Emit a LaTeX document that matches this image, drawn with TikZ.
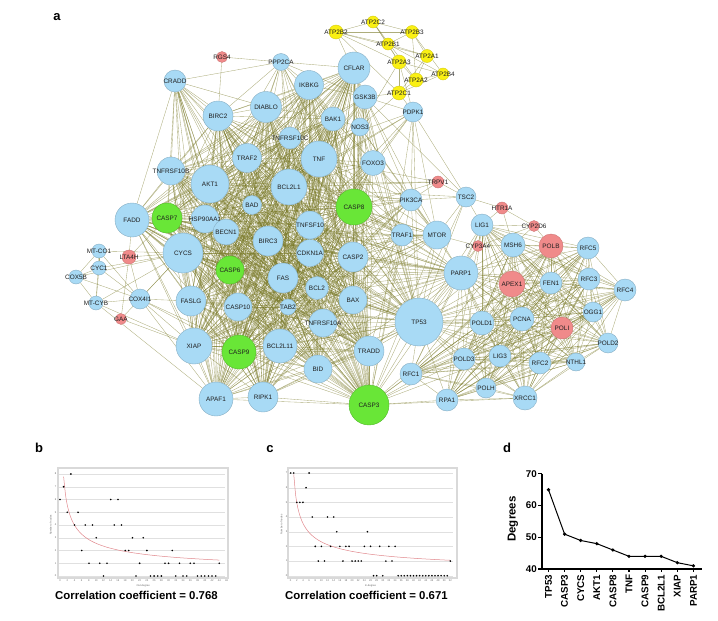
\documentclass[tikz,border=0pt]{standalone}
\usepackage{fontspec}
\setmainfont{Liberation Sans}
\usetikzlibrary{backgrounds}
\definecolor{geneblue}{RGB}{168,218,245}
\definecolor{genegreen}{RGB}{105,230,55}
\definecolor{genepink}{RGB}{240,138,138}
\definecolor{geneyellow}{RGB}{250,240,20}
\definecolor{edgecolor}{RGB}{118,118,35}
\definecolor{fitcolor}{RGB}{225,135,140}

\begin{document}
\begin{tikzpicture}[x=1pt, y=-1pt,
  gene/.style={circle, inner sep=0pt, line width=.4pt},
  bnode/.style={gene, fill=geneblue, draw=geneblue!80!black, minimum size=#1pt},
  gnode/.style={gene, fill=genegreen, draw=genegreen!80!black, minimum size=#1pt},
  pnode/.style={gene, fill=genepink, draw=genepink!85!black, minimum size=#1pt},
  ynode/.style={gene, fill=geneyellow, draw=geneyellow!85!black, minimum size=#1pt},
  every label/.style={font=\fontsize{6.4}{7}\selectfont, inner sep=0pt, text=black!88},
  edge/.style={draw=edgecolor, line width=.35pt, opacity=.6},
  panel/.style={font=\fontsize{13}{14}\selectfont\bfseries},
  caption/.style={font=\fontsize{11.4}{12}\selectfont\bfseries},
  plotframe/.style={draw=black!15, line width=1.2pt},
  gridline/.style={draw=black!12, line width=.3pt},
  fitline/.style={draw=fitcolor, line width=.5pt},
  ticklab/.style={font=\fontsize{2.6}{3}\selectfont, inner sep=0pt, text=black!60},
  dline/.style={draw=black, line width=1.1pt},
  dtick/.style={font=\fontsize{9.8}{10}\selectfont\bfseries, inner sep=1pt},
]
\useasboundingbox (0,0) rectangle (718,621);

% panel labels
\node[panel] (lbla) at (57,17) {a};
\node[panel] (lblb) at (39,448) {b};
\node[panel] (lblc) at (270,449) {c};
\node[panel] (lbld) at (507,448) {d};

% genes: calcium pumps
\node[ynode=12, label=center:ATP2C2] (ATP2C2) at (373,22) {};
\node[ynode=14, label=center:ATP2B2] (ATP2B2) at (336,32) {};
\node[ynode=13, label=center:ATP2B3] (ATP2B3) at (412,32) {};
\node[ynode=12, label=center:ATP2B1] (ATP2B1) at (388,44) {};
\node[ynode=13, label=center:ATP2A1] (ATP2A1) at (427,56) {};
\node[ynode=14, label=center:ATP2A3] (ATP2A3) at (399,62) {};
\node[ynode=12, label=center:ATP2B4] (ATP2B4) at (443,74) {};
\node[ynode=14, label=center:ATP2A2] (ATP2A2) at (416,80) {};
\node[ynode=14, label=center:ATP2C1] (ATP2C1) at (399,93) {};

% genes: top
\node[pnode=11, label=center:RGS4] (RGS4) at (222,57) {};
\node[bnode=17, label=center:PPP2CA] (PPP2CA) at (281,62) {};
\node[bnode=22, label=center:CRADD] (CRADD) at (175,81) {};
\node[bnode=30, label=center:BIRC2] (BIRC2) at (218,116) {};
\node[bnode=31, label=center:DIABLO] (DIABLO) at (266,107) {};
\node[bnode=29, label=center:IKBKG] (IKBKG) at (309,85) {};
\node[bnode=32, label=center:CFLAR] (CFLAR) at (354,68) {};
\node[bnode=24, label=center:GSK3B] (GSK3B) at (365,97) {};
\node[bnode=24, label=center:BAK1] (BAK1) at (333,119) {};
\node[bnode=18, label=center:NOS3] (NOS3) at (360,127) {};
\node[bnode=20, label=center:PDPK1] (PDPK1) at (413,112) {};
\node[bnode=22, label=center:TNFRSF10C] (TNFRSF10C) at (290,138) {};
\node[bnode=29, label=center:TRAF2] (TRAF2) at (247,158) {};
\node[bnode=36, label=center:TNF] (TNF) at (319,159) {};
\node[bnode=25, label=center:FOXO3] (FOXO3) at (373,163) {};
\node[bnode=28, label=center:TNFRSF10B] (TNFRSF10B) at (171,171) {};

% genes: apoptosis core
\node[bnode=38, label=center:AKT1] (AKT1) at (210,184) {};
\node[bnode=36, label=center:BCL2L1] (BCL2L1) at (289,187) {};
\node[bnode=19, label=center:BAD] (BAD) at (252,205) {};
\node[bnode=34, label=center:FADD] (FADD) at (132,220) {};
\node[gnode=30, label=center:CASP7] (CASP7) at (167,218) {};
\node[bnode=28, label=center:HSP90AA1] (HSP90AA1) at (205,219) {};
\node[bnode=26, label=center:BECN1] (BECN1) at (226,232) {};
\node[bnode=30, label=center:BIRC3] (BIRC3) at (268,241) {};
\node[bnode=28, label=center:TNFSF10] (TNFSF10) at (310,225) {};
\node[gnode=36, label=center:CASP8] (CASP8) at (354,207) {};
\node[bnode=40, label=center:CYCS] (CYCS) at (183,253) {};
\node[gnode=28, label=center:CASP6] (CASP6) at (230,270) {};
\node[bnode=27, label=center:CDKN1A] (CDKN1A) at (310,253) {};
\node[bnode=30, label=center:FAS] (FAS) at (283,278) {};
\node[bnode=30, label=center:CASP2] (CASP2) at (353,257) {};
\node[bnode=23, label=center:BCL2] (BCL2) at (317,288) {};
\node[bnode=28, label=center:BAX] (BAX) at (353,300) {};
\node[bnode=30, label=center:FASLG] (FASLG) at (191,301) {};
\node[bnode=28, label=center:CASP10] (CASP10) at (238,307) {};
\node[bnode=16, label=center:TAB2] (TAB2) at (288,307) {};
\node[bnode=28, label=center:TNFRSF10A] (TNFRSF10A) at (323,323) {};
\node[bnode=36, label=center:XIAP] (XIAP) at (194,346) {};
\node[gnode=34, label=center:CASP9] (CASP9) at (239,352) {};
\node[bnode=34, label=center:BCL2L11] (BCL2L11) at (280,346) {};
\node[bnode=28, label=center:BID] (BID) at (318,369) {};
\node[bnode=30, label=center:TRADD] (TRADD) at (369,351) {};
\node[bnode=34, label=center:APAF1] (APAF1) at (216,399) {};
\node[bnode=30, label=center:RIPK1] (RIPK1) at (263,397) {};
\node[gnode=40, label=center:CASP3] (CASP3) at (369,405) {};

% genes: mitochondria
\node[bnode=14, label=center:MT-CO1] (MTCO1) at (99,251) {};
\node[pnode=14, label=center:LTA4H] (LTA4H) at (129,257) {};
\node[bnode=14, label=center:CYC1] (CYC1) at (99,268) {};
\node[bnode=14, label=center:COX5B] (COX5B) at (76,277) {};
\node[bnode=14, label=center:MT-CYB] (MTCYB) at (96,303) {};
\node[bnode=20, label=center:COX4I1] (COX4I1) at (140,299) {};
\node[pnode=11, label=center:GAA] (GAA) at (121,319) {};

% genes: signalling
\node[pnode=12, label=center:TRPV1] (TRPV1) at (438,182) {};
\node[bnode=22, label=center:PIK3CA] (PIK3CA) at (411,200) {};
\node[bnode=20, label=center:TSC2] (TSC2) at (466,197) {};
\node[pnode=12, label=center:HTR1A] (HTR1A) at (502,208) {};
\node[bnode=22, label=center:TRAF1] (TRAF1) at (402,235) {};
\node[bnode=28, label=center:MTOR] (MTOR) at (437,235) {};
\node[pnode=11, label=center:CYP3A4] (CYP3A4) at (478,246) {};
\node[pnode=11, label=center:CYP2D6] (CYP2D6) at (534,226) {};

% genes: DNA repair
\node[bnode=22, label=center:LIG1] (LIG1) at (482,225) {};
\node[bnode=24, label=center:MSH6] (MSH6) at (513,245) {};
\node[pnode=24, label=center:POLB] (POLB) at (551,246) {};
\node[bnode=22, label=center:RFC5] (RFC5) at (588,248) {};
\node[bnode=34, label=center:PARP1] (PARP1) at (461,273) {};
\node[pnode=26, label=center:APEX1] (APEX1) at (512,284) {};
\node[bnode=22, label=center:FEN1] (FEN1) at (551,283) {};
\node[bnode=22, label=center:RFC3] (RFC3) at (589,279) {};
\node[bnode=22, label=center:RFC4] (RFC4) at (625,290) {};
\node[bnode=20, label=center:OGG1] (OGG1) at (593,312) {};
\node[bnode=24, label=center:PCNA] (PCNA) at (522,319) {};
\node[pnode=22, label=center:POLI] (POLI) at (562,328) {};
\node[bnode=48, label=center:TP53] (TP53) at (419,322) {};
\node[bnode=24, label=center:POLD1] (POLD1) at (482,323) {};
\node[bnode=20, label=center:POLD2] (POLD2) at (608,343) {};
\node[bnode=22, label=center:POLD3] (POLD3) at (464,359) {};
\node[bnode=22, label=center:LIG3] (LIG3) at (500,356) {};
\node[bnode=22, label=center:RFC2] (RFC2) at (540,363) {};
\node[bnode=18, label=center:NTHL1] (NTHL1) at (576,362) {};
\node[bnode=22, label=center:RFC1] (RFC1) at (411,374) {};
\node[bnode=20, label=center:POLH] (POLH) at (486,388) {};
\node[bnode=22, label=center:RPA1] (RPA1) at (447,400) {};
\node[bnode=24, label=center:XRCC1] (XRCC1) at (525,398) {};

% interactions
\def\corelist{TP53,TNF,AKT1,BCL2L1,CASP8,CASP3,CASP9,CYCS,XIAP,BIRC2,DIABLO,IKBKG,CFLAR,TRAF2,TNFRSF10B,BAD,FADD,CASP7,HSP90AA1,BECN1,BIRC3,TNFSF10,CASP6,CDKN1A,FAS,CASP2,BCL2,BAX,FASLG,CASP10,TAB2,TNFRSF10A,BCL2L11,BID,TRADD,APAF1,RIPK1,TNFRSF10C,BAK1}
\def\repairlist{TP53,PARP1,LIG1,MSH6,POLB,RFC5,APEX1,FEN1,RFC3,RFC4,OGG1,PCNA,POLI,POLD1,POLD2,POLD3,LIG3,RFC2,NTHL1,RFC1,POLH,RPA1,XRCC1}
\def\mitolist{CYCS,MTCO1,CYC1,COX5B,MTCYB,COX4I1}
\begin{scope}[on background layer]
  \foreach \a [count=\i] in \corelist {
    \foreach \b [count=\j] in \corelist {
      \ifnum\j>\i \draw[edge] (\a) -- (\b); \fi
    }
  }
  \foreach \a [count=\i] in \repairlist {
    \foreach \b [count=\j] in \repairlist {
      \ifnum\j>\i \draw[edge] (\a) -- (\b); \fi
    }
  }
  \foreach \a [count=\i] in \mitolist {
    \foreach \b [count=\j] in \mitolist {
      \ifnum\j>\i \draw[edge] (\a) -- (\b); \fi
    }
  }
  \foreach \b in {BIRC2,DIABLO,TRAF2,AKT1,FADD,CASP7,TNFRSF10B,CYCS,CASP8,CASP3,CASP9,CASP2,XIAP,RIPK1,BID,TRADD,FAS,CASP6,CASP10,APAF1,PPP2CA,HSP90AA1,BECN1}
    \draw[edge] (CRADD) -- (\b);
  \foreach \b in {RGS4,IKBKG,DIABLO,AKT1,BCL2L1,TNF,CASP3,GSK3B,BAD,CASP8,TP53,CFLAR,BAK1,TNFRSF10C,TRAF2,BIRC2}
    \draw[edge] (PPP2CA) -- (\b);
  \draw[edge] (RGS4) -- (BIRC2);
  \foreach \b in {CFLAR,IKBKG,BAK1,NOS3,TNF,AKT1,BCL2L1,CASP8,CASP3,TP53,MTOR,PIK3CA,PDPK1,FOXO3,CASP9,BAX,CDKN1A,XIAP,ATP2B2,ATP2C1,CASP2,BCL2}
    \draw[edge] (GSK3B) -- (\b);
  \foreach \b in {AKT1,TNF,CASP3,TP53,BCL2L1,PIK3CA,MTOR,CASP8,ATP2C1,FOXO3,BAX,CYCS,CASP9,BAK1,CFLAR}
    \draw[edge] (NOS3) -- (\b);
  \foreach \b in {AKT1,TNF,BCL2L1,TP53,CASP3,CASP8,CDKN1A,BCL2L11,FASLG,BAX,PIK3CA,MTOR,BCL2,CASP9,PDPK1,TNFSF10,FAS,BID,CASP2,CFLAR,IKBKG,BAK1}
    \draw[edge] (FOXO3) -- (\b);
  \foreach \b in {AKT1,PIK3CA,MTOR,TSC2,BAD,ATP2C1,ATP2A3,TP53,CASP3,BCL2L1,CASP9,XIAP}
    \draw[edge] (PDPK1) -- (\b);
  \foreach \b in {AKT1,MTOR,TSC2,TP53,CASP3,CASP8,TNF,BCL2L1,CASP9,BAD,BAX,CDKN1A,XIAP,TRPV1,PARP1,BCL2,FAS,CASP2,BECN1}
    \draw[edge] (PIK3CA) -- (\b);
  \foreach \b in {AKT1,TSC2,TP53,CASP3,CASP8,BECN1,BCL2L1,TNF,CYP3A4,PARP1,CDKN1A,BAX,BCL2,CASP9,XIAP,TRAF1,CASP2,CYCS}
    \draw[edge] (MTOR) -- (\b);
  \foreach \b in {TNF,TRAF2,BIRC2,BIRC3,CASP8,CASP3,IKBKG,TRADD,RIPK1,FADD,CFLAR,TP53,AKT1,BCL2L1,XIAP,CASP9,FAS,BID,CASP2}
    \draw[edge] (TRAF1) -- (\b);
  \foreach \b in {AKT1,TP53,TRPV1,LIG1,HTR1A,GSK3B,CASP3}
    \draw[edge] (TSC2) -- (\b);
  \foreach \b in {CASP8,AKT1,TNF,BCL2L1}
    \draw[edge] (TRPV1) -- (\b);
  \foreach \a/\b in {HTR1A/LIG1,HTR1A/CYP2D6,HTR1A/MSH6,CYP2D6/MSH6,CYP2D6/POLB,CYP2D6/CYP3A4,CYP2D6/LIG1,CYP3A4/PARP1,CYP3A4/LIG1,CYP3A4/TP53,CYP3A4/MSH6}
    \draw[edge] (\a) -- (\b);
  \foreach \b in {CASP3,CASP8,CASP7,CASP9,CASP6,CASP2,BCL2L1,AKT1,TNF,BAX,CYCS,XIAP,FAS,CDKN1A,BCL2,TRAF1,APAF1,BID,CASP10,TNFSF10,BIRC3,BAD,FADD,TRADD}
    \draw[edge] (PARP1) -- (\b);
  \foreach \b in {RFC1,PCNA,POLD1,RPA1,APEX1,LIG3,XRCC1,POLD3}
    \draw[edge] (CASP3) -- (\b);
  \foreach \a/\b in {COX4I1/XIAP,COX4I1/APAF1,COX4I1/CASP9,COX4I1/CASP3,COX4I1/FASLG,COX4I1/LTA4H,LTA4H/CYCS,LTA4H/GAA,LTA4H/CASP7,LTA4H/FADD,GAA/XIAP,GAA/CYCS,MTCYB/XIAP,MTCYB/APAF1}
    \draw[edge] (\a) -- (\b);
  \foreach \a/\b in {ATP2B2/ATP2C2,ATP2B2/ATP2B3,ATP2C2/ATP2B3,ATP2B2/ATP2B1,ATP2B2/ATP2A3,ATP2B2/ATP2A1,ATP2B2/ATP2C1,ATP2C2/ATP2B1,ATP2C2/ATP2A3,ATP2C2/ATP2A2,ATP2B3/ATP2B1,ATP2B3/ATP2A1,ATP2B3/ATP2B4,ATP2B3/ATP2A2,ATP2B1/ATP2A1,ATP2B1/ATP2A3,ATP2B1/ATP2B4,ATP2A3/ATP2A2,ATP2A3/ATP2C1,ATP2A3/ATP2B4,ATP2A1/ATP2A2,ATP2A1/ATP2C1,ATP2A2/ATP2B4,ATP2A2/ATP2C1,ATP2C1/ATP2B4,ATP2A3/NOS3}
    \draw[edge] (\a) -- (\b);
\end{scope}

% b: out-degree distribution
\draw[plotframe] (58,468) rectangle (228,578);
\begin{scope}[shift={(60,576)}, x=3.62pt, y=12.75pt]
  \foreach \v in {0,...,8} {
    \draw[gridline] (-0.4,\v) -- (45.6,\v);
    \node[ticklab] (by\v) at (-1.2,\v) {\v};
  }
  \foreach \v in {0,2,...,46}
    \node[ticklab] (bx\v) at (\v,-0.35) {\v};
  \node[ticklab] (bxlab) at (23,-0.8) {Out-degree};
  \node[ticklab, rotate=90] (bylab) at (-2.6,4) {Number of nodes};
  \draw[fitline] plot[domain=1:44, samples=80, smooth] (\x,{7.8*pow(\x,-0.484)});
  \foreach \px/\py in {0/6,1/7,3/8,2/5,4/4,5/5,6/2,7/4,8/1,9/4,10/3,11/1,12/0,13/1,14/6,15/4,16/6,17/4,18/2,19/2,20/3,21/0,22/1,23/3,24/2,25/0,26/0,27/0,28/0,29/1,30/1,31/2,32/0,33/1,34/0,35/0,36/1,37/1,38/0,39/0,40/0,41/0,42/0,43/0,44/1}
    \fill (\px,\py) circle (0.9pt);
\end{scope}
\node[caption] (capb) at (136.5,595) {Correlation coefficient = 0.768};

% c: in-degree distribution
\draw[plotframe] (288,468) rectangle (457,578);
\begin{scope}[shift={(290.7,575.7)}, x=3.07pt, y=14.67pt]
  \foreach \v in {0,...,7} {
    \draw[gridline] (-0.4,\v) -- (53,\v);
    \node[ticklab] (cy\v) at (-1.3,\v) {\v};
  }
  \foreach \v in {0,2,...,52}
    \node[ticklab] (cx\v) at (\v,-0.31) {\v};
  \node[ticklab] (cxlab) at (26,-0.7) {In-degree};
  \node[ticklab, rotate=90] (cylab) at (-3,3.5) {Number of nodes};
  \draw[fitline] plot[domain=1:52, samples=80, smooth] (\x,{6.9*pow(\x,-0.476)});
  \foreach \px/\py in {0/7,1/7,2/5,3/5,4/5,5/6,6/7,7/4,8/2,9/1,10/2,11/1,12/4,13/2,14/4,15/3,16/2,17/1,18/2,19/2,20/1,21/1,22/1,23/1,24/2,25/3,26/2,27/0,28/0,29/2,30/0,31/1,32/2,33/1,34/2,52/1}
    \fill (\px,\py) circle (0.9pt);
  \foreach \px in {35,...,51}
    \fill (\px,0) circle (0.9pt);
\end{scope}
\node[caption] (capc) at (366.5,595) {Correlation coefficient = 0.671};

% d: top ten degrees
\node[font=\fontsize{11.5}{12}\selectfont\bfseries, rotate=90] (dylab) at (513,519) {Degrees};
\begin{scope}[shift={(542,569)}, y=3.17pt]
  \draw[dline] (0,30) -- (0,0) -- (160,0);
  \foreach \v in {40,50,60,70} {
    \draw[dline] (0,{\v-40}) -- (-4,{\v-40});
    \node[dtick, anchor=east] (dy\v) at (-4,{\v-40}) {\v};
  }
  \foreach \n/\v [count=\k from 0] in {TP53/65,CASP3/51,CYCS/49,AKT1/48,CASP8/46,TNF/44,CASP9/44,BCL2L1/44,XIAP/42,PARP1/41} {
    \coordinate (d\k) at ({6.5+16.1*\k},{\v-40});
    \draw[dline] ({6.5+16.1*\k},0) -- ({6.5+16.1*\k},-1.1);
    \node[dtick, rotate=90, anchor=east] (dx\k) at ({6.5+16.1*\k},-1.4) {\n};
  }
  \draw[line width=1pt] (d0) \foreach \k in {1,...,9} {-- (d\k)};
  \foreach \k in {0,...,9}
    \fill (d\k) circle (1.8pt);
\end{scope}
\end{tikzpicture}
\end{document}
